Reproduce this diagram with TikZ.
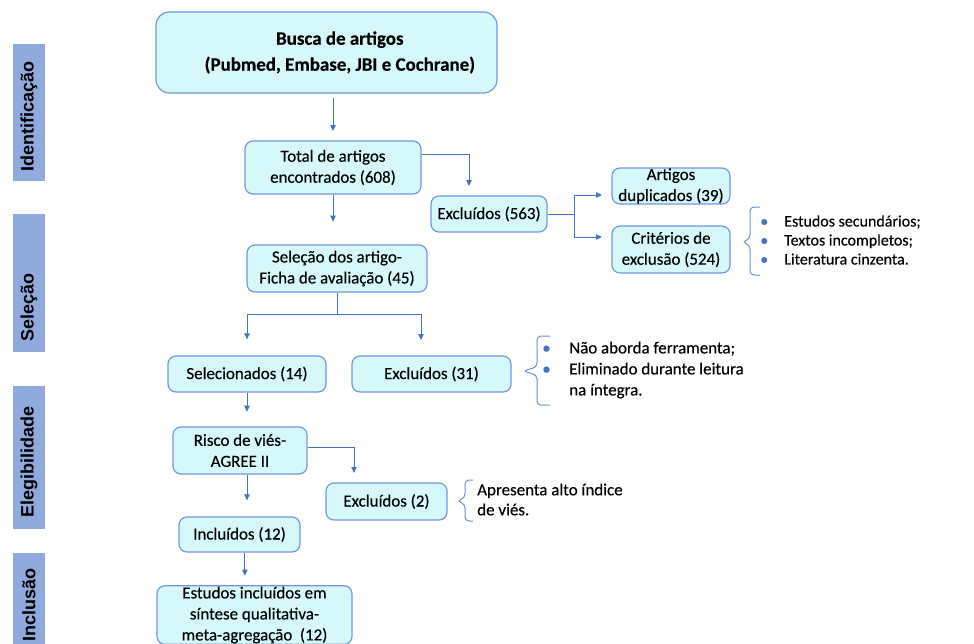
\documentclass[tikz,border=0pt]{standalone}
\usepackage{fontspec}
\setmainfont{Carlito}[FakeBold=0.35]
\newfontfamily\labfont{Liberation Sans}
\usetikzlibrary{arrows.meta}
\definecolor{boxfill}{RGB}{214,248,250}
\definecolor{boxline}{RGB}{112,152,220}
\definecolor{arrowblue}{RGB}{68,114,196}
\definecolor{bracblue}{RGB}{105,143,212}
\definecolor{labfill}{RGB}{143,170,220}
\newcommand{\dotitem}[1]{\makebox[#1][l]{\textcolor{arrowblue}{•}}}
\tikzset{
  box/.style={draw=boxline, fill=boxfill, rounded corners=6pt, line width=0.9pt, inner sep=0pt,
    align=center, font=\fontsize{12.7}{15.75}\selectfont},
  arr/.style={draw=arrowblue, line width=0.75pt, -{Triangle[length=4.5pt,width=4pt]}},
  link/.style={draw=arrowblue, line width=0.75pt},
  labbox/.style={fill=labfill, inner sep=0pt, minimum width=24pt},
  labtxt/.style={rotate=90, anchor=west, inner sep=0pt, font=\labfont\bfseries\fontsize{13.5}{16}\selectfont},
  brc/.style={draw=bracblue, line width=0.75pt, rounded corners=3pt},
  list/.style={anchor=west, inner sep=0pt, align=left}}

\begin{document}
\begin{tikzpicture}[x=0.75pt,y=-0.75pt]
\clip (0,0) rectangle (974,643);

\node[labbox, minimum height=102.75pt] (idbox) at (29,112.5) {};
\node[labbox, minimum height=103.5pt] (selbox) at (29,283) {};
\node[labbox, minimum height=107.25pt] (elebox) at (29,457.5) {};
\node[labbox, minimum height=80.25pt] (incbox) at (29,606.5) {};
\node[labtxt] (idtxt) at (29,172) {Identificação};
\node[labtxt] (seltxt) at (29,342) {Seleção};
\node[labtxt] (eletxt) at (29,518) {Elegibilidade};
\node[labtxt] (inctxt) at (29,642) {Inclusão};

\node[box, rounded corners=10pt, minimum width=255.75pt, minimum height=60.75pt,
  font=\fontsize{14.2}{19.5}\selectfont\bfseries] (busca) at (326.5,52.5)
  {\hspace*{20pt}Busca de artigos\\\hspace*{20pt}(Pubmed, Embase, JBI e Cochrane)};
\node[box, minimum width=132pt, minimum height=39.75pt] (total) at (333,167.5) {Total de artigos\\encontrados (608)};
\node[box, minimum width=135pt, minimum height=35.25pt] (selecao) at (337,268.5) {Seleção dos artigo-\\Ficha de avaliação (45)};
\node[box, minimum width=118.5pt, minimum height=27pt] (selecionados) at (247,374) {Selecionados (14)};
\node[box, minimum width=119.25pt, minimum height=27pt] (exc31) at (431.5,374) {Excluídos (31)};
\node[box, minimum width=100.5pt, minimum height=35.25pt] (risco) at (240,450.5) {Risco de viés-\\AGREE II};
\node[box, minimum width=90.75pt, minimum height=27.75pt] (exc2) at (386.5,501.5) {Excluídos (2)};
\node[box, minimum width=90.75pt, minimum height=26.25pt] (incl) at (239.5,534.5) {Incluídos (12)};
\node[box, minimum width=146.25pt, minimum height=44pt] (estudos) at (254.5,615) {Estudos incluídos em\\síntese qualitativa-\\meta-agregação\ \ (12)};
\node[box, minimum width=87pt, minimum height=27pt] (exc563) at (489,214) {Excluídos (563)};
\node[box, minimum width=88.5pt, minimum height=27pt] (duplicados) at (671,186) {Artigos\\duplicados (39)};
\node[box, minimum width=88.5pt, minimum height=35.25pt] (criterios) at (671,249.5) {Critérios de\\exclusão (524)};

\node[list, font=\fontsize{12}{14.25}\selectfont] (critlist) at (760,240)
  {\dotitem{18pt}Estudos secundários;\\\dotitem{18pt}Textos incompletos;\\\dotitem{18pt}Literatura cinzenta.};
\node[list, font=\fontsize{12.7}{15.75}\selectfont] (exc31list) at (542,370)
  {\dotitem{20.25pt}Não aborda ferramenta;\\\dotitem{20.25pt}Eliminado durante leitura\\\hspace{20.25pt}na íntegra.};
\node[list, font=\fontsize{12.7}{15}\selectfont] (exc2list) at (477,499.5)
  {Apresenta alto índice\\de viés.};

\coordinate (e1) at (469,186);
\coordinate (e31) at (421,340);
\coordinate (d1) at (602,195);
\coordinate (d2) at (602,237);
\coordinate (e2) at (354,473);

\draw[arr, shorten <=3pt, shorten >=7pt] (busca.south -| total.north) -- (total.north);
\draw[arr] ([yshift=9.4pt]total.east) -| (e1);
\draw[arr, shorten >=17pt] (total.south) -- (total.south |- selecao.north);
\draw[link] (selecao.south) -- ++(0,22) coordinate (s1);
\draw[arr, shorten >=12pt] (s1) -| (selecionados.north);
\draw[arr] (s1) -| (e31);
\draw[link] (exc563.east) -- ++(27,0) coordinate (s2);
\draw[arr] (s2) |- (d1);
\draw[arr] (s2) |- (d2);
\draw[arr, shorten >=11pt] (selecionados.south) -- (selecionados.south |- risco.north);
\draw[arr] ([yshift=1.9pt]risco.east) -| (e2);
\draw[arr, shorten >=12pt] (selecionados.south |- risco.south) -- (selecionados.south |- incl.north);
\draw[arr, shorten >=7pt] ([xshift=4pt]incl.south) -- ([xshift=4pt]incl.south |- estudos.north);

\draw[brc] (760,207) -- (750,207) -- (750,239) -- (742,242) -- (750,245) -- (750,275) -- (760,275);
\draw[brc] (550,336) -- (537,336) -- (537,367) -- (523,371) -- (537,375) -- (537,405) -- (550,405);
\draw[brc] (473,480) -- (465,480) -- (465,498) -- (457,501) -- (465,504) -- (465,521) -- (473,521);
\end{tikzpicture}
\end{document}
